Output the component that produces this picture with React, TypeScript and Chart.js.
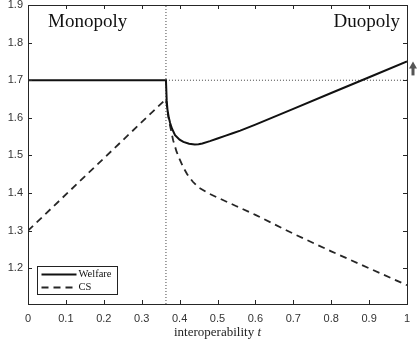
import React, { useEffect, useRef } from "react";
import { Chart, registerables } from "chart.js";
Chart.register(...registerables);

// interoperability t and welfare
const welfareT = [0, 0.364, 0.366, 0.368, 0.371, 0.375, 0.38, 0.388, 0.4, 0.41, 0.425, 0.44, 0.45, 0.46, 0.48, 0.5, 0.52, 0.54, 0.56, 0.6, 0.7, 0.8, 0.9, 1.0];
const welfareV = [1.7, 1.7, 1.645, 1.622, 1.603, 1.586, 1.571, 1.554, 1.542, 1.536, 1.531, 1.529, 1.53, 1.532, 1.538, 1.545, 1.552, 1.559, 1.566, 1.582, 1.624, 1.666, 1.708, 1.75];
// consumer surplus
const csT = [0, 0.364, 0.366, 0.37, 0.375, 0.383, 0.392, 0.4, 0.41, 0.42, 0.435, 0.45, 0.475, 0.5, 0.55, 0.6, 0.7, 0.8, 0.9, 1.0];
const csV = [1.3, 1.65, 1.635, 1.605, 1.578, 1.54, 1.51, 1.49, 1.468, 1.45, 1.43, 1.415, 1.4, 1.388, 1.365, 1.342, 1.292, 1.245, 1.2, 1.155];

const xTicks = [0, 0.1, 0.2, 0.3, 0.4, 0.5, 0.6, 0.7, 0.8, 0.9, 1];
const yTicks = [1.2, 1.3, 1.4, 1.5, 1.6, 1.7, 1.8, 1.9];
const xRange = [0, 1];
const yRange = [1.105, 1.9];
const threshold = 0.364;
const level = 1.7;
const seriesLabels = ["Welfare", "CS"];
const regionLabels = ["Monopoly", "Duopoly"];
const xTitle = "interoperability ";
const xTitleVar = "t";

const SERIF = "'Liberation Serif', 'Times New Roman', serif";
const SANS = "'Liberation Sans', Arial, sans-serif";

export default function App() {
  const ref = useRef<HTMLCanvasElement>(null);
  useEffect(() => {
    document.body.style.margin = "0";
    const canvas = ref.current!;
    const decor = {
      id: "decor",
      afterDraw(chart: any) {
        const ctx = chart.ctx as CanvasRenderingContext2D;
        const { left, right, top, bottom } = chart.chartArea;
        const xs = chart.scales.x;
        const ys = chart.scales.y;
        ctx.save();
        // frame
        ctx.strokeStyle = "#262626";
        ctx.lineWidth = 1;
        ctx.strokeRect(Math.round(left) + 0.5, Math.round(top) + 0.5, Math.round(right - left), Math.round(bottom - top));
        // inward ticks
        ctx.beginPath();
        xTicks.forEach((v) => {
          const px = Math.round(xs.getPixelForValue(v)) + 0.5;
          ctx.moveTo(px, bottom);
          ctx.lineTo(px, bottom - 4);
          ctx.moveTo(px, top);
          ctx.lineTo(px, top + 4);
        });
        yTicks.forEach((v) => {
          const py = Math.round(ys.getPixelForValue(v)) + 0.5;
          ctx.moveTo(left, py);
          ctx.lineTo(left + 4, py);
          ctx.moveTo(right, py);
          ctx.lineTo(right - 4, py);
        });
        ctx.stroke();
        // region labels
        ctx.fillStyle = "#111";
        ctx.font = `19px ${SERIF}`;
        ctx.textBaseline = "alphabetic";
        ctx.textAlign = "left";
        ctx.fillText(regionLabels[0], left + 20, top + 22);
        ctx.textAlign = "right";
        ctx.fillText(regionLabels[1], right - 7, top + 22);
        // x title
        ctx.font = `13px ${SERIF}`;
        const w1 = ctx.measureText(xTitle).width;
        ctx.font = `italic 13px ${SERIF}`;
        const w2 = ctx.measureText(xTitleVar).width;
        const cx = (left + right) / 2;
        const sx = cx - (w1 + w2) / 2;
        ctx.textAlign = "left";
        ctx.font = `13px ${SERIF}`;
        ctx.fillStyle = "#222";
        ctx.fillText(xTitle, sx, 336);
        ctx.font = `italic 13px ${SERIF}`;
        ctx.fillText(xTitleVar, sx + w1, 336);
        // legend
        const lx = Math.round(left) + 9.5;
        const lyb = Math.round(bottom) - 9.5;
        const lw = 80;
        const lh = 28;
        ctx.fillStyle = "#fff";
        ctx.fillRect(lx, lyb - lh, lw, lh);
        ctx.strokeStyle = "#222";
        ctx.lineWidth = 1;
        ctx.strokeRect(lx, lyb - lh, lw, lh);
        const ds = chart.data.datasets;
        seriesLabels.forEach((lab, i) => {
          const y = lyb - lh + 8 + i * 13;
          ctx.beginPath();
          ctx.strokeStyle = ds[i].borderColor;
          ctx.lineWidth = ds[i].borderWidth;
          ctx.setLineDash(ds[i].borderDash || []);
          ctx.moveTo(lx + 4, y);
          ctx.lineTo(lx + 39, y);
          ctx.stroke();
          ctx.setLineDash([]);
          ctx.fillStyle = "#111";
          ctx.font = `10.5px ${SERIF}`;
          ctx.textBaseline = "middle";
          ctx.fillText(lab, lx + 41, y);
        });
        // arrow outside right
        const tipY = ys.getPixelForValue(welfareV[welfareV.length - 1]);
        const ax = right + 6;
        ctx.fillStyle = "#555";
        ctx.beginPath();
        ctx.moveTo(ax, tipY);
        ctx.lineTo(ax + 4, tipY + 7);
        ctx.lineTo(ax - 4, tipY + 7);
        ctx.closePath();
        ctx.fill();
        ctx.fillRect(ax - 1.5, tipY + 6, 3, 8);
        ctx.restore();
      },
    };
    const chart = new Chart(canvas, {
      type: "line",
      data: {
        datasets: [
          {
            label: seriesLabels[0],
            data: welfareT.map((t, i) => ({ x: t, y: welfareV[i] })),
            borderColor: "#111",
            borderWidth: 2,
            pointRadius: 0,
            tension: 0,
          },
          {
            label: seriesLabels[1],
            data: csT.map((t, i) => ({ x: t, y: csV[i] })),
            borderColor: "#262626",
            borderWidth: 1.8,
            borderDash: [7, 5],
            pointRadius: 0,
            tension: 0,
          },
          {
            label: "threshold",
            data: [
              { x: threshold, y: yRange[0] },
              { x: threshold, y: yRange[1] },
            ],
            borderColor: "#444",
            borderWidth: 1,
            borderDash: [1, 2],
            pointRadius: 0,
          },
          {
            label: "level",
            data: [
              { x: threshold, y: level },
              { x: xRange[1], y: level },
            ],
            borderColor: "#444",
            borderWidth: 1,
            borderDash: [1, 2],
            pointRadius: 0,
          },
        ],
      },
      options: {
        animation: false,
        responsive: false,
        layout: { padding: { top: 5, right: 10, left: 0, bottom: 0 } },
        plugins: { legend: { display: false }, tooltip: { enabled: false } },
        scales: {
          x: {
            type: "linear",
            min: xRange[0],
            max: xRange[1],
            grid: { display: false, drawTicks: false },
            border: { display: false },
            ticks: {
              padding: 8,
              color: "#333",
              font: { family: SANS, size: 11 },
              maxRotation: 0,
              autoSkip: false,
              callback: (v: any) => String(v),
            },
            afterBuildTicks: (s: any) => {
              s.ticks = xTicks.map((v) => ({ value: v }));
            },
            afterFit: (s: any) => {
              s.height = 42;
              s.paddingLeft = 0;
              s.paddingRight = 0;
            },
          },
          y: {
            type: "linear",
            min: yRange[0],
            max: yRange[1],
            grid: { display: false, drawTicks: false },
            border: { display: false },
            ticks: {
              padding: 5,
              color: "#333",
              font: { family: SANS, size: 11 },
              autoSkip: false,
              callback: (v: any) => String(v),
            },
            afterBuildTicks: (s: any) => {
              s.ticks = yTicks.map((v) => ({ value: v }));
            },
            afterFit: (s: any) => {
              s.width = 28;
              s.paddingTop = 0;
              s.paddingBottom = 0;
            },
          },
        },
      },
      plugins: [decor],
    } as any);
    return () => chart.destroy();
  }, []);
  return <canvas ref={ref} width={417} height={346} style={{ display: "block" }} />;
}
